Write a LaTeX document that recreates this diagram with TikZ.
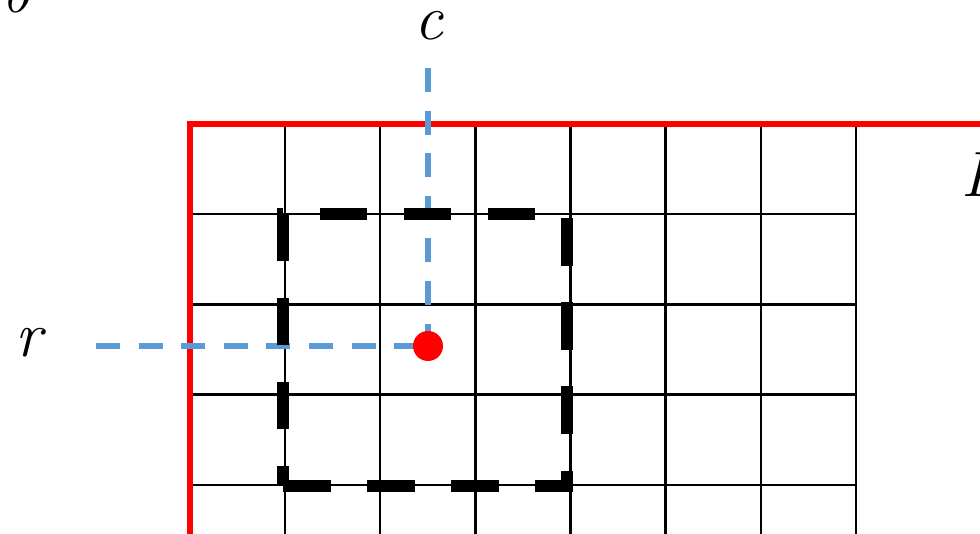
\documentclass[tikz,border=0pt]{standalone}
\usepackage{fontspec}
\definecolor{guideblue}{HTML}{5B9BD5}
\definecolor{framered}{HTML}{FF0000}
\tikzset{
  gridline/.style={black, line width=2.4pt},
  frameline/.style={framered, line width=6pt, line join=miter},
  guide/.style={guideblue, line width=5.5pt, dash pattern=on 24pt off 18.6pt},
  window/.style={black, line width=11.7pt, line join=miter, dash pattern=on 47.5pt off 36.5pt},
  biglabel/.style={font=\fontsize{64}{70}\selectfont\itshape, inner sep=0pt},
  pixel/.style={circle, fill=framered, minimum size=30pt, inner sep=0pt}
}
\begin{document}
\begin{tikzpicture}[x=1pt, y=-1pt]
  \useasboundingbox (0,0) rectangle (980,534);
  \clip (0,0) rectangle (980,534);

  % pixel grid
  \foreach \i in {0,...,6}
    \draw[gridline] ({285+95.17*\i},124) -- ({285+95.17*\i},534);
  \foreach \j in {0,...,3}
    \draw[gridline] (190,{214+90.33*\j}) -- (856,{214+90.33*\j});

  % image border
  \coordinate (frameBL) at (190,534);
  \coordinate (frameTL) at (190,124);
  \coordinate (frameTR) at (980,124);
  \draw[frameline] (frameBL) -- (frameTL) -- (frameTR);

  % labels
  \node[biglabel, anchor=base] (lblc) at (429,40) {c};
  \node[biglabel, anchor=base] (lblr) at (29,357) {r};
  \node[biglabel, anchor=base west] (lblI) at (961,197) {I};
  \node[biglabel, anchor=base west] (lblb) at (1,13) {b};

  % guides from the row and column labels to the pixel
  \coordinate (pix) at (428,346);
  \coordinate (colstart) at (428,68);
  \coordinate (rowstart) at (96,346);
  \draw[guide] (colstart) -- (pix);
  \draw[guide] (rowstart) -- (pix);

  % neighbourhood window
  \coordinate (wBL) at (283,486);
  \coordinate (wBR) at (567,486);
  \coordinate (wTR) at (567,214);
  \coordinate (wTL) at (283,214);
  \draw[window] (wBL) -- (wBR) -- (wTR) -- (wTL) -- cycle;

  % the pixel itself
  \node[pixel] (p) at (pix) {};
\end{tikzpicture}
\end{document}
